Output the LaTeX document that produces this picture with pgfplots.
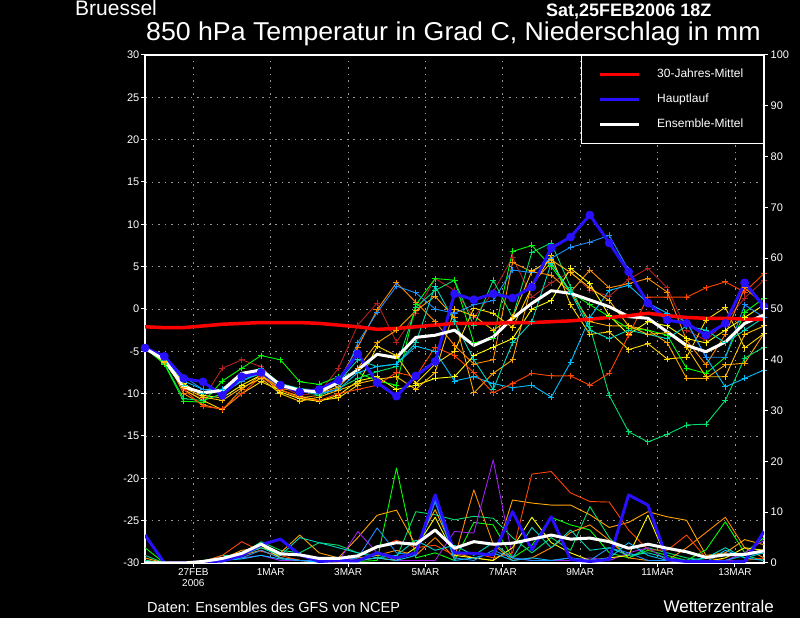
\documentclass[border=0pt]{standalone}
\usepackage{pgfplots}
\pgfplotsset{compat=1.18}
\usepackage{pgfplotstable}
\usepackage{fontspec}
\setmainfont{Liberation Sans}

\definecolor{cdarkred}{HTML}{B22222}
\definecolor{cdorange}{HTML}{FF8C00}
\definecolor{corange}{HTML}{FFA500}
\definecolor{cgold}{HTML}{FFD700}
\definecolor{cyellow}{HTML}{FFFF00}
\definecolor{cspring}{HTML}{00E070}
\definecolor{clime}{HTML}{00FF00}
\definecolor{cturq}{HTML}{00D8C0}
\definecolor{csky}{HTML}{00BFFF}
\definecolor{cdodger}{HTML}{1E90FF}
\definecolor{cored}{HTML}{FF4500}
\definecolor{cgold2}{HTML}{FFC000}
\definecolor{cpurple}{HTML}{A020F0}
\definecolor{cblue}{HTML}{2810FF}
\definecolor{cgrid}{HTML}{9A9A9A}

\pgfplotstableread{
h   clim  main  mean   m1    m2    m3    m4    m5    m6    m7    m8    m9    m10   m11   m12
0   -2.1  -4.6  -4.65  -4.6  -4.6  -4.6  -4.6  -4.6  -4.6  -4.6  -4.6  -4.6  -4.6  -4.6  -4.6
12  -2.2  -5.6  -6.0   -5.9  -5.5  -6.0  -6.2  -5.8  -6.4  -6.5  -6.1  -5.8  -5.5  -6.0  -6.3
24  -2.2  -8.2  -9.2   -9.6  -10.0 -9.0  -9.5  -8.8  -10.6 -10.9 -9.0  -8.5  -8.0  -9.5  -9.3
36  -2.0  -8.6  -9.9   -10.6 -11.3 -10.0 -10.8 -10.2 -10.8 -11.0 -10.0 -9.5  -9.5  -11.5 -10.4
48  -1.8  -10.2 -9.6   -7.0  -11.9 -9.5  -11.9 -10.5 -10.0 -8.5  -9.8  -9.5  -10.0 -11.8 -10.8
60  -1.7  -8.0  -7.6   -6.0  -9.5  -8.0  -10.0 -9.0  -8.5  -7.0  -7.8  -8.5  -8.5  -10.0 -9.3
72  -1.6  -7.5  -7.2   -6.8  -7.8  -7.6  -8.6  -7.8  -7.6  -5.5  -7.0  -7.5  -7.3  -8.0  -8.2
84  -1.6  -9.0  -9.0   -9.1  -9.5  -9.4  -9.6  -9.8  -9.2  -6.0  -8.8  -9.0  -9.0  -9.5  -10.0
96  -1.6  -9.8  -9.6   -10.2 -10.5 -9.7  -10.3 -10.6 -9.6  -8.6  -9.4  -9.5  -9.8  -10.5 -10.9
108 -1.7  -9.5  -9.8   -9.9  -10.2 -10.0 -10.8 -10.9 -10.2 -8.9  -9.6  -10.0 -10.0 -10.8 -10.4
120 -1.9  -8.4  -8.7   -7.0  -8.5  -9.2  -10.5 -10.2 -9.4  -8.0  -8.6  -9.5  -9.5  -10.0 -9.6
132 -2.1  -5.3  -7.2   -1.9  -4.5  -7.0  -9.0  -8.5  -8.2  -7.5  -6.0  -7.5  -4.0  -9.5  -8.8
144 -2.4  -8.7  -5.35  0.7   -0.1  -4.0  -4.4  -8.0  -7.4  -8.5  -6.8  -6.8  -0.4  -9.0  -8.3
156 -2.3  -10.3 -5.75  -3.9  3.1   -2.5  -5.5  -9.5  -6.8  -9.0  -6.5  -6.5  2.7   -7.5  -8.0
168 -2.1  -7.9  -3.35  -0.5  0.8   -0.2  -8.8  -9.0  0.2   0.5   -4.0  -4.4  1.9   -8.0  -9.5
180 -1.9  -6.2  -3.1   3.6   -1.5  1.5   -6.5  -8.2  2.2   3.6   2.7   -5.0  0.0   -4.5  -7.5
192 -1.7  1.8   -2.5   2.2   -4.3  -1.0  -5.0  -8.0  3.4   3.4   -1.5  -8.5  -0.5  -5.5  0.0
204 -1.7  1.1   -4.3   -1.0  -6.5  -9.9  0.1   -5.5  -2.0  -4.0  -6.0  -8.0  0.5   -7.5  -0.8
216 -1.7  1.8   -3.3   2.0   -6.0  -7.6  -0.5  -4.5  3.4   -3.5  -9.5  -8.8  1.0   -9.9  -2.5
228 -1.6  1.3   -1.1   6.1   5.5   -6.0  -2.2  -3.5  -1.0  6.8   -4.0  -9.3  4.6   -8.8  -1.0
240 -1.6  2.6   0.67   1.4   4.4   3.0   2.6   0.0   6.7   7.5   -1.5  -9.0  4.3   -7.6  4.5
252 -1.5  7.2   2.16   3.1   4.0   5.5   6.3   1.0   7.8   5.0   5.4   -10.4 6.0   -7.9  5.8
264 -1.4  8.5   1.85   4.4   2.0   2.0   0.5   4.8   2.6   2.0   2.0   -6.3  7.3   -7.9  4.3
276 -1.2  11.1  1.06   2.2   4.6   -1.5  -3.0  3.0   -2.1  0.5   -2.5  -1.0  7.9   -9.0  2.5
288 -1.0  7.8   0.27   1.5   2.5   -2.0  -2.7  -0.8  -10.2 -0.9  -3.5  2.2   8.7   -7.6  1.0
300 -0.8  4.4   -0.9   3.5   3.0   -2.0  -4.8  -3.0  -14.5 -2.3  -2.5  2.8   4.6   -3.1  -2.0
312 -0.5  0.7   -1.1   4.8   3.6   -2.5  -4.1  -1.5  -15.7 -2.5  -3.0  0.7   0.7   1.4   -3.0
324 -0.8  -1.3  -2.7   2.5   2.0   -4.0  -5.9  -2.0  -14.8 -3.1  -3.5  -0.5  -1.3  1.4   -2.8
336 -1.0  -1.7  -4.3   -2.5  -3.7  -8.2  -5.7  -3.5  -13.7 -7.0  -2.0  -1.5  -1.5  1.4   -4.5
348 -1.1  -3.1  -5.05  -3.7  -6.6  -8.2  -1.3  -4.0  -13.6 -7.6  -2.5  -5.7  -5.7  2.5   -8.0
360 -1.1  -1.7  -3.9   -1.5  -3.0  -6.6  0.2   -2.5  -10.8 -5.7  -4.0  -9.2  -5.7  3.2   -8.0
372 -1.2  3.1   -1.7   1.3   2.5   -6.4  -4.6  -1.0  -5.8  -0.4  -2.5  -8.2  0.5   2.0   -3.0
384 -1.2  0.3   -0.7   3.4   0.5   -2.9  -2.9  0.5   -4.5  1.3   -1.0  -7.2  -1.0  4.2   -2.0
}\temps

\pgfplotstableread{
h   pmain pmean p1    p2    p3    p4    p5    p6    p7    p8    p9    p10
0   5.5   0     3.0   1.5   1.0   0.5   0     0     0.5   0.3   0     0.5
12  0     0     0     0     0     0     0     0     0     0     0     0
24  0     0     0     0     0     0     0     0     0     0     0     0
36  0.2   0.3   0.5   0.3   0.2   0     0.3   0     0.2   0     0.2   0.3
48  0.4   0.9   1.0   1.5   0.8   0.5   1.5   0.5   1.0   0.5   0.5   1.0
60  1.5   1.9   2.0   1.5   2.5   1.5   4.2   1.0   2.0   0.8   1.0   1.5
72  3.6   3.7   4.0   4.2   3.0   2.5   2.3   1.5   3.5   1.5   2.5   3.0
84  4.7   1.8   1.0   2.5   2.0   1.0   1.5   0.5   1.0   0.8   1.0   1.5
96  1.6   1.6   0.5   2.0   5.5   0.5   0.5   0.5   0.5   0.5   0.5   5.0
108 0.3   0.9   0.2   4.0   2.0   0.3   0.3   0.3   0.5   0.2   0.5   4.0
120 0.5   0.9   0.5   3.5   1.0   0.5   0.2   0.3   1.0   0.3   0.5   3.0
132 0.4   1.4   0.3   2.0   5.0   1.0   1.5   6.2   0.5   0.5   1.0   2.0
144 2.0   3.2   0.5   1.5   9.4   1.5   3.0   2.0   1.0   1.0   6.9   1.0
156 1.0   4.0   18.7  1.0   10.4  2.5   4.5   0.5   0.5   0.5   2.0   1.5
168 2.0   3.7   1.0   10.1  3.5   1.5   3.0   0.5   3.0   1.5   1.5   4.5
180 13.4  6.5   2.0   9.5   10.5  5.0   3.5   0.5   9.0   12.5  12.0  2.5
192 2.0   2.9   0.5   8.5   2.0   1.0   1.5   6.2   1.5   0.5   1.0   3.5
204 1.9   4.2   8.0   9.2   1.0   14.4  2.0   5.9   1.0   1.0   0.5   1.5
216 1.6   3.7   7.5   8.8   0.5   3.7   1.0   20.3  0.5   2.0   2.5   4.0
228 10.1  3.9   1.0   5.0   12.4  0.5   2.0   1.0   3.0   0.5   1.0   1.0
240 2.6   4.7   3.5   2.0   11.8  1.0   17.5  0.5   9.0   1.0   0.5   7.0
252 9.1   5.5   9.0   5.0   11.4  3.0   18.0  0.5   4.0   0.5   0.5   3.0
264 0.7   4.7   7.5   2.5   11.4  6.0   13.8  0.5   2.0   1.0   1.0   6.5
276 0.3   4.9   6.5   11.1  9.5   7.5   12.1  1.0   0.5   0.5   0.5   2.5
288 0.7   4.2   2.0   5.0   7.0   4.5   12.0  0.5   1.0   1.0   3.0   3.0
300 13.4  2.9   1.0   1.0   8.0   1.0   6.5   2.0   1.5   4.0   2.0   1.5
312 11.4  3.7   2.5   3.0   10.1  0.5   2.6   3.0   9.4   1.5   0.5   2.0
324 0.7   2.9   1.5   2.0   9.1   0.5   2.5   0.5   0.5   0.5   0.5   1.0
336 0.3   2.2   0.5   1.0   8.4   3.0   5.5   0.2   0.2   0.5   0.2   0.5
348 0.3   1.1   2.6   0.5   1.5   6.0   1.0   0.2   0.3   0.2   0.5   1.0
360 0.2   1.6   8.1   0.5   2.0   9.0   0.5   0.5   1.0   2.5   0.5   3.0
372 0.3   1.7   2.0   1.5   4.6   3.0   0.5   2.0   3.0   1.0   1.5   1.0
384 6.2   2.4   5.0   0.5   3.6   1.0   1.0   4.5   2.5   0.5   2.0   2.0
}\precip

\pgfplotsset{
  member/.style={color=#1, line width=0.9pt, line join=round, mark=+, mark size=3pt, mark options={solid, line width=0.9pt}, forget plot},
  pmember/.style={color=#1, line width=0.9pt, line join=round, no marks, forget plot},
}

\begin{document}
\begin{tikzpicture}[x=1pt,y=1pt]
\fill[black] (0,0) rectangle (800,618);
\useasboundingbox (0,0) rectangle (800,618);

\begin{axis}[
  at={(145pt,55pt)}, anchor=south west, scale only axis,
  width=619pt, height=508pt,
  xmin=0, xmax=384, ymin=-30, ymax=30,
  axis line style={white, line width=1.5pt},
  xtick={30,78,126,174,222,270,318,366},
  xticklabels={{27FEB\\2006},1MAR,3MAR,5MAR,7MAR,9MAR,11MAR,13MAR},
  xticklabel style={align=center, font=\fontsize{10}{11}\selectfont, text=white, inner sep=1pt},
  ytick={-30,-25,...,30},
  yticklabel style={font=\fontsize{11}{11}\selectfont, text=white, inner sep=1.5pt},
  /pgf/number format/assume math mode=true,
  xtick pos=bottom, ytick pos=left,
  tick align=outside, major tick length=4pt,
  tick style={white, line width=1pt},
  grid=major,
  major grid style={color=cgrid, dash pattern=on 1.5pt off 5pt, line width=0.8pt},
  clip=true,
]
\addplot[member=cdarkred] table[x=h,y=m1]{\temps};
\addplot[member=cdorange] table[x=h,y=m2]{\temps};
\addplot[member=corange] table[x=h,y=m3]{\temps};
\addplot[member=cgold] table[x=h,y=m4]{\temps};
\addplot[member=cyellow] table[x=h,y=m5]{\temps};
\addplot[member=cspring] table[x=h,y=m6]{\temps};
\addplot[member=clime] table[x=h,y=m7]{\temps};
\addplot[member=cturq] table[x=h,y=m8]{\temps};
\addplot[member=csky] table[x=h,y=m9]{\temps};
\addplot[member=cdodger] table[x=h,y=m10]{\temps};
\addplot[member=cored] table[x=h,y=m11]{\temps};
\addplot[member=cgold2] table[x=h,y=m12]{\temps};
\addplot[color=cblue, line width=3pt, line join=round, mark=*, mark size=2.8pt, mark options={solid}, forget plot] table[x=h,y=main]{\temps};
\addplot[white, line width=3pt, line join=round, no marks, forget plot] table[x=h,y=mean]{\temps};
\addplot[red, line width=3.5pt, line join=round, no marks, forget plot] table[x=h,y=clim]{\temps};
\end{axis}

\begin{axis}[
  at={(145pt,55pt)}, anchor=south west, scale only axis,
  width=619pt, height=508pt,
  xmin=0, xmax=384, ymin=0, ymax=100,
  axis x line=none, axis y line*=right,
  axis line style={white, line width=1.5pt},
  ytick={0,10,...,100},
  yticklabel style={font=\fontsize{11}{11}\selectfont, text=white, inner sep=2.5pt},
  /pgf/number format/assume math mode=true,
  tick align=outside, major tick length=4pt,
  tick style={white, line width=1pt},
  clip=true,
  legend style={at={(1,1)}, anchor=north east, draw=white, fill=black, line width=1.5pt,
    text=white, font=\fontsize{12}{12}\selectfont,
    inner xsep=17pt, inner ysep=10pt, row sep=7pt,
    nodes={inner sep=3pt, text height=9pt, text depth=3pt},
    /tikz/every odd column/.append style={column sep=13pt}},
  legend cell align=left,
  legend image code/.code={\draw[#1] (0pt,0pt) -- (39pt,0pt);},
]
\addplot[pmember=clime] table[x=h,y=p1]{\precip};
\addplot[pmember=cspring] table[x=h,y=p2]{\precip};
\addplot[pmember=corange] table[x=h,y=p3]{\precip};
\addplot[pmember=cdorange] table[x=h,y=p4]{\precip};
\addplot[pmember=cored] table[x=h,y=p5]{\precip};
\addplot[pmember=cpurple] table[x=h,y=p6]{\precip};
\addplot[pmember=cyellow] table[x=h,y=p7]{\precip};
\addplot[pmember=csky] table[x=h,y=p8]{\precip};
\addplot[pmember=cdodger] table[x=h,y=p9]{\precip};
\addplot[pmember=cturq] table[x=h,y=p10]{\precip};
\addplot[color=cblue, line width=3pt, line join=round, no marks, forget plot] table[x=h,y=pmain]{\precip};
\addplot[white, line width=3pt, line join=round, no marks, forget plot] table[x=h,y=pmean]{\precip};
\addlegendimage{red, line width=3.5pt}
\addlegendentry{30-Jahres-Mittel}
\addlegendimage{cblue, line width=3.5pt}
\addlegendentry{Hauptlauf}
\addlegendimage{white, line width=3.5pt}
\addlegendentry{Ensemble-Mittel}
\end{axis}

\node[anchor=base west, inner sep=0, text=white, font=\fontsize{21}{21}\selectfont] at (75,602.5) {Bruessel};
\node[anchor=base west, inner sep=0, text=white, font=\bfseries\fontsize{18}{18}\selectfont] at (546,601) {Sat,25FEB2006 18Z};
\node[anchor=base west, inner sep=0, text=white, font=\fontsize{25.8}{25.8}\selectfont] at (146,577.3) {\scalebox{1.035}[1]{850 hPa Temperatur in Grad C, Niederschlag in mm}};
\node[anchor=base west, inner sep=0, text=white, font=\fontsize{14.5}{14.5}\selectfont] at (147,5.3) {Daten: Ensembles des GFS von NCEP};
\node[anchor=base east, inner sep=0, text=white, font=\fontsize{17}{17}\selectfont] at (774,5.3) {Wetterzentrale};
\end{tikzpicture}
\end{document}
